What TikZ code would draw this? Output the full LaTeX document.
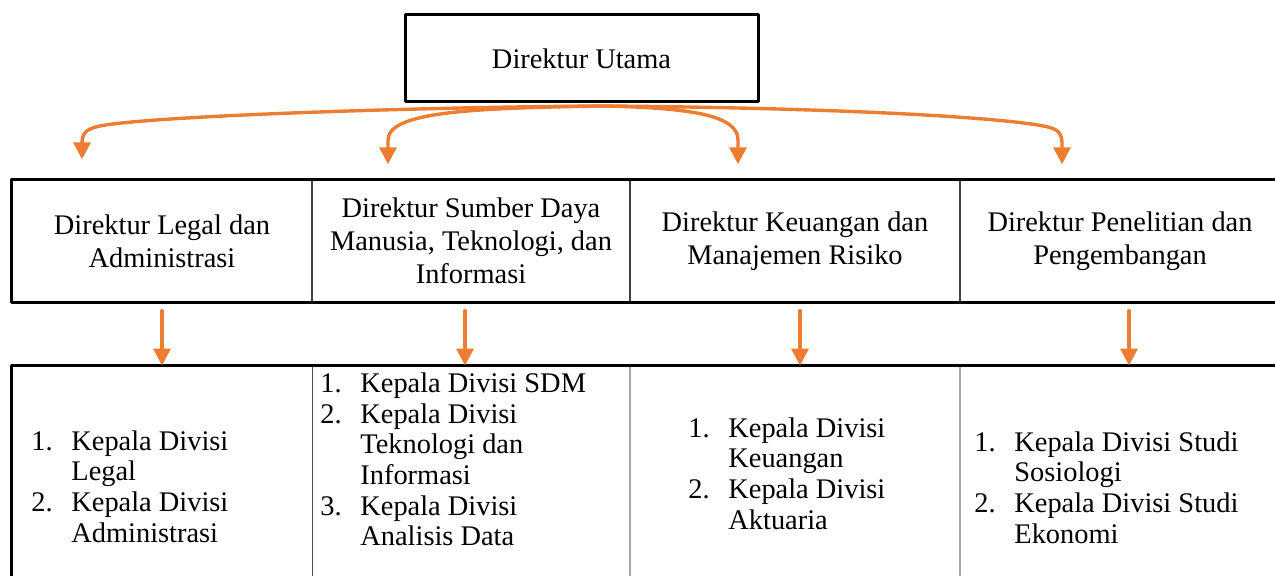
\documentclass[tikz,border=0pt]{standalone}
\usepackage{fontspec}
\setmainfont{Liberation Serif}
\usetikzlibrary{arrows.meta,calc}
\definecolor{oranye}{RGB}{237,125,49}
\begin{document}
\begin{tikzpicture}[x=0.5pt,y=-0.5pt,>={Triangle[width=8.5pt,length=8.5pt]}, font=\fontsize{14.2pt}{16.5pt}\selectfont, line join=round, line cap=round,
	cell/.style={draw=black!75,line width=0.7pt,minimum height=61pt,inner sep=0pt,align=center},
	subcell/.style={minimum height=127pt,inner sep=0pt},
	frame/.style={line width=1.5pt},
	connector/.style={->,draw=oranye,line width=1.7pt},
	list/.style={anchor=west,inner sep=0pt,font=\fontsize{14.2pt}{15.3pt}\selectfont}]
\useasboundingbox (0,0) rectangle (1275,576);
% Direktur Utama
\node[draw,frame,minimum width=176.5pt,minimum height=43.5pt] (utama) at (581.5,58.5) {Direktur Utama};
\coordinate (hub) at (605,106);
% Baris direktur
\node[cell,minimum width=150pt] (legal) at (162,241) {Direktur Legal dan\\Administrasi};
\node[cell,minimum width=159pt] (sdm) at (471,241) {Direktur Sumber Daya\\Manusia, Teknologi, dan\\Informasi};
\node[cell,minimum width=165pt] (keuangan) at (795,241) {Direktur Keuangan dan\\Manajemen Risiko};
\node[cell,minimum width=160pt] (penelitian) at (1120,241) {Direktur Penelitian dan\\Pengembangan};
\draw[frame] (penelitian.north east)--(legal.north west)--(legal.south west)--(penelitian.south east);
% Baris divisi
\node[subcell,minimum width=150pt] (divlegal) at (162,493) {};
\node[subcell,minimum width=159pt] (divsdm) at (471,493) {};
\node[subcell,minimum width=165pt] (divkeu) at (795,493) {};
\node[subcell,minimum width=160pt] (divstudi) at (1120,493) {};
\draw[black!70,line width=0.7pt] (divlegal.north east)--(divlegal.south east);
\draw[black!35,line width=1pt] (divsdm.north east)--(divsdm.south east) (divkeu.north east)--(divkeu.south east);
\draw[frame] (divstudi.north east)--(divlegal.north west)--(divlegal.south west);
\node[list] (isilegal) at (31,490) {\begin{tabular}{@{}p{20pt}@{}l@{}}1.&Kepala Divisi\\&Legal\\2.&Kepala Divisi\\&Administrasi\end{tabular}};
\node[list] (isisdm) at (320,463) {\begin{tabular}{@{}p{20pt}@{}l@{}}1.&Kepala Divisi SDM\\2.&Kepala Divisi\\&Teknologi dan\\&Informasi\\3.&Kepala Divisi\\&Analisis Data\end{tabular}};
\node[list] (isikeu) at (688,477) {\begin{tabular}{@{}p{20pt}@{}l@{}}1.&Kepala Divisi\\&Keuangan\\2.&Kepala Divisi\\&Aktuaria\end{tabular}};
\node[list] (isistudi) at (974,491) {\begin{tabular}{@{}p{20pt}@{}l@{}}1.&Kepala Divisi Studi\\&Sosiologi\\2.&Kepala Divisi Studi\\&Ekonomi\end{tabular}};
% Panah
\draw[connector] (hub) .. controls (420,107) and (150,116) .. (100,126) .. controls (85,129) and (82,134) .. (82,144) -- ($(legal.north)+(-80,-20)$);
\draw[connector] (hub) .. controls (470,108) and (388,112) .. (388,140) -- ($(sdm.north)+(-83,-15)$);
\draw[connector] (hub) .. controls (690,108) and (738,115) .. (738,140) -- ($(keuangan.north)+(-57,-15)$);
\draw[connector] (hub) .. controls (850,108) and (1010,118) .. (1048,127) .. controls (1060,130) and (1062,135) .. (1062,144) -- ($(penelitian.north)+(-58,-15)$);
\foreach \a/\b/\dx in {legal/divlegal/0, sdm/divsdm/-6, keuangan/divkeu/5, penelitian/divstudi/9}
	\draw[connector,shorten <=4pt] ($(\a.south)+(\dx,0)$)--($(\b.north)+(\dx,0)$);
\end{tikzpicture}
\end{document}
